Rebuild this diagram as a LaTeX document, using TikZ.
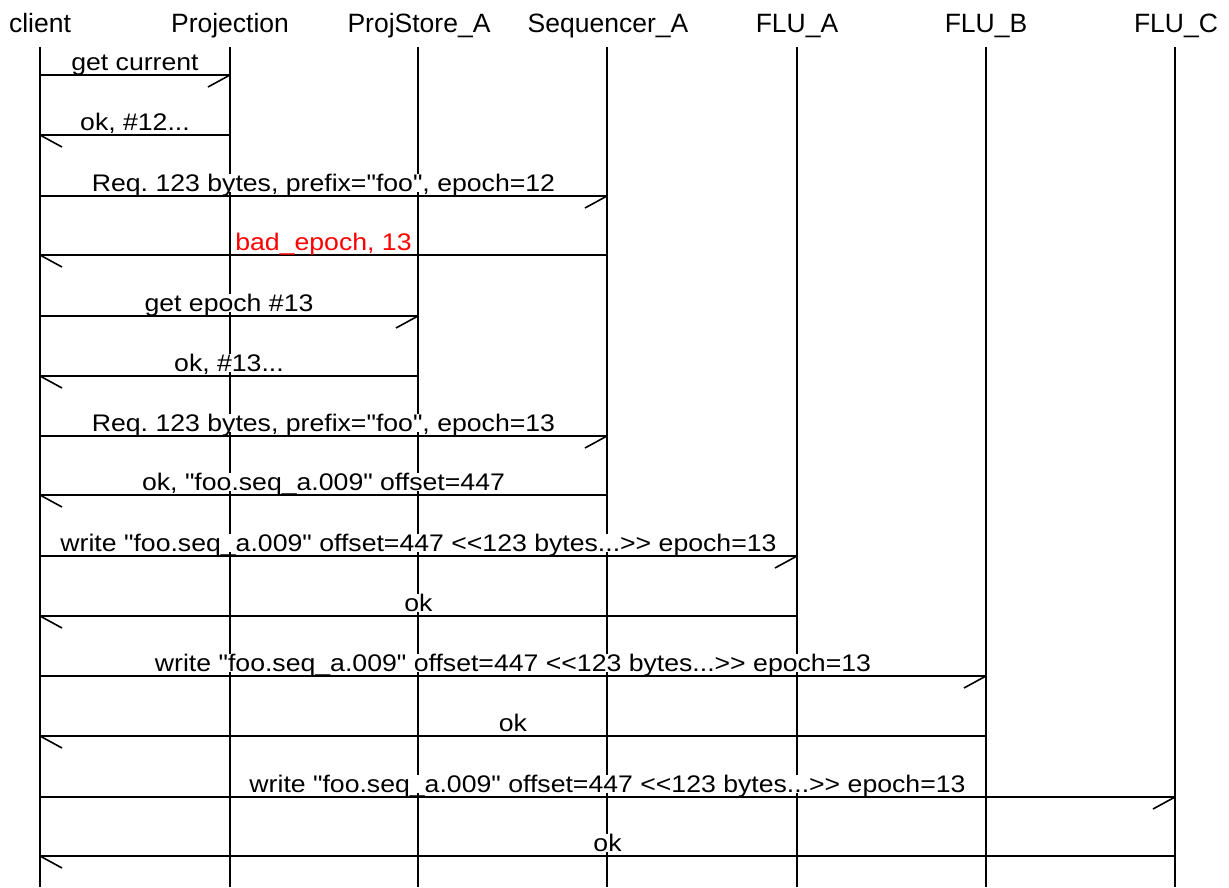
\documentclass[tikz,border=0pt]{standalone}
\usepackage{fontspec}
\usepackage{graphicx}
\setmainfont{Liberation Sans}[Ligatures=TeXOff]
\frenchspacing
\newcommand\sendmsg[6][black]{%
  \draw[msgline] (#2 |- 0,-#4) -- (#3 |- 0,-#4)
    node[midway,lbl,yshift=4.5pt,text=#1]{\scalebox{1.11}[1]{#6}};
  \draw[msgline] (#3 |- 0,-#4) -- ++(#5,-12);
}
\begin{document}
\begin{tikzpicture}[x=1pt,y=1pt,
  head/.style={anchor=base,font=\fontsize{26.5}{30}\selectfont,inner sep=0pt},
  life/.style={line width=1.6pt},
  msgline/.style={line width=1.6pt},
  lbl/.style={anchor=base,fill=white,inner xsep=1pt,inner ysep=0pt,text depth=0pt,font=\fontsize{24}{28}\selectfont}]
\useasboundingbox (0,0) rectangle (1229,-887);
% heads
\node[head] (hclient) at (40,-32) {client};
\node[head] (hproj) at (230,-32) {Projection};
\node[head] (hstore) at (419,-32) {ProjStore\_A};
\node[head] (hseq) at (608,-32) {Sequencer\_A};
\node[head] (hflua) at (797,-32) {FLU\_A};
\node[head] (hflub) at (986,-32) {FLU\_B};
\node[head] (hfluc) at (1176,-32) {FLU\_C};
% lifelines
\coordinate (client) at (40,-47);  \coordinate (clientE) at (40,-887);
\coordinate (proj) at (230,-47);   \coordinate (projE) at (230,-887);
\coordinate (store) at (418,-47);  \coordinate (storeE) at (418,-887);
\coordinate (seq) at (607,-47);    \coordinate (seqE) at (607,-887);
\coordinate (flua) at (797,-47);   \coordinate (fluaE) at (797,-887);
\coordinate (flub) at (986,-47);   \coordinate (flubE) at (986,-887);
\coordinate (fluc) at (1175,-47);  \coordinate (flucE) at (1175,-887);
\foreach \a in {client,proj,store,seq,flua,flub,fluc}
  \draw[life] (\a) -- (\a E);
% messages
\sendmsg{client}{proj}{75}{-22}{get current}
\sendmsg{proj}{client}{135}{22}{ok, \#12...}
\sendmsg{client}{seq}{196}{-22}{Req. 123 bytes, prefix="foo", epoch=12}
\sendmsg[red]{seq}{client}{255}{22}{bad\_epoch, 13}
\sendmsg{client}{store}{316}{-22}{get epoch \#13}
\sendmsg{store}{client}{376}{22}{ok, \#13...}
\sendmsg{client}{seq}{436}{-22}{Req. 123 bytes, prefix="foo", epoch=13}
\sendmsg{seq}{client}{495}{22}{ok, "foo.seq\_a.009" offset=447}
\sendmsg{client}{flua}{556}{-22}{write "foo.seq\_a.009" offset=447 <<123 bytes...>> epoch=13}
\sendmsg{flua}{client}{616}{22}{ok}
\sendmsg{client}{flub}{676}{-22}{write "foo.seq\_a.009" offset=447 <<123 bytes...>> epoch=13}
\sendmsg{flub}{client}{736}{22}{ok}
\sendmsg{client}{fluc}{797}{-22}{write "foo.seq\_a.009" offset=447 <<123 bytes...>> epoch=13}
\sendmsg{fluc}{client}{856}{22}{ok}
\end{tikzpicture}
\end{document}
